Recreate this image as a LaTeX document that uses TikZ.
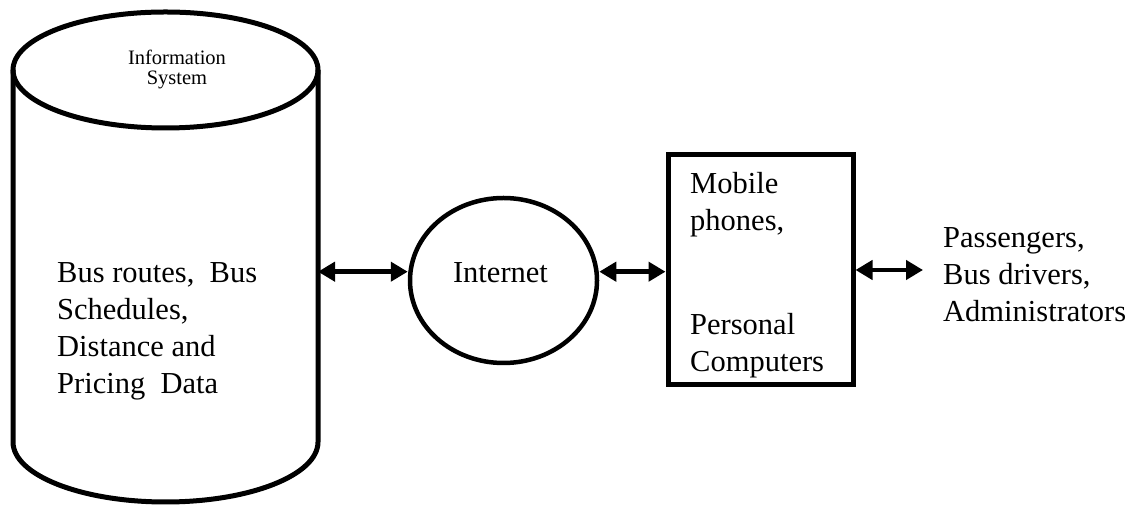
\documentclass[tikz,border=0pt]{standalone}
\usepackage{fontspec}
\setmainfont{Liberation Serif}
\usetikzlibrary{arrows.meta,shapes.geometric}

% left-aligned / centred stacks of lines, baseline on the first line
\newcommand{\stackl}[1]{\begin{tabular}[t]{@{}l@{}}#1\end{tabular}}
\newcommand{\stackc}[1]{\begin{tabular}[t]{@{}c@{}}#1\end{tabular}}

\tikzset{
  outline/.style={draw=black, line width=5pt},
  bigtext/.style={inner sep=0pt, anchor=base west, font=\fontsize{30.5}{37}\selectfont},
  smalltext/.style={inner sep=0pt, anchor=base, font=\fontsize{20.5}{20}\selectfont},
  link/.style={line width=4.5pt, {Triangle[length=17pt,width=19pt]}-{Triangle[length=17pt,width=19pt]}},
}

\begin{document}
\begin{tikzpicture}[x=1pt,y=1pt]
  \useasboundingbox (0,0) rectangle (1139,505);

  % database cylinder
  \draw[outline, line join=round] (13,435) -- (13,63)
     arc[start angle=180, end angle=360, x radius=152.5, y radius=60] -- (318,435);
  \draw[outline] (165.5,435) ellipse [x radius=152.5, y radius=58];
  \coordinate (dbeast) at (318,233.3);

  \node[smalltext] (dbtitle) at (177,440) {\stackc{Information\\System}};
  \node[bigtext] (dbdata) at (57,222)
    {\stackl{Bus routes,~ Bus\\Schedules,\\Distance and\\Pricing~ Data}};

  % internet
  \node[ellipse, draw, line width=4.5pt, minimum width=187pt, minimum height=165pt,
        inner sep=0pt] (net) at (503.5,224.5) {};
  \node[bigtext, anchor=base] (nettext) at (500.5,222) {Internet};

  % client devices
  \node[rectangle, outline, minimum width=185pt, minimum height=230pt, inner sep=0pt]
        (dev) at (760.5,235) {};
  \node[bigtext] (devtop) at (690,311) {\stackl{Mobile\\phones,}};
  \node[bigtext] (devbot) at (690,170) {\stackl{Personal\\Computers}};

  % users
  \coordinate (usersend) at (923,235);
  \node[bigtext] (users) at (943,257) {\stackl{Passengers,\\Bus drivers,\\Administrators}};

  % connectors
  \draw[link] (dbeast) -- (net.west |- dbeast);
  \draw[link] (net.east |- dbeast) -- (dev.west |- dbeast);
  \draw[link] (dev.east |- usersend) -- (usersend);
\end{tikzpicture}
\end{document}
